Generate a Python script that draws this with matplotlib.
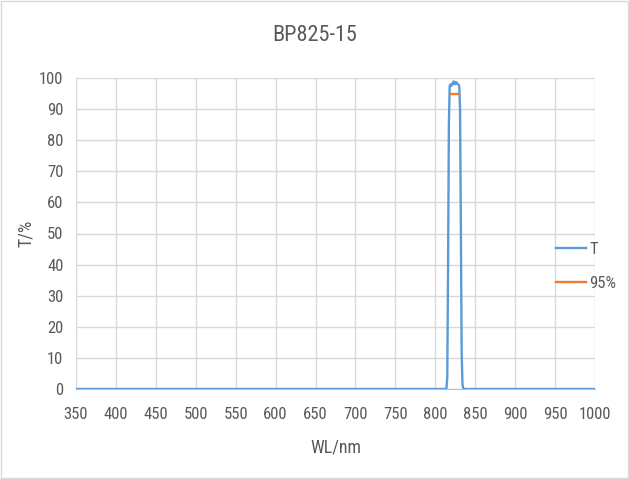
import matplotlib
matplotlib.use("Agg")
from matplotlib import pyplot as plt
from matplotlib.patches import Rectangle

plt.rcParams['font.family'] = ['Roboto Condensed', 'DejaVu Sans']

wl = [350, 812, 814, 815, 816, 817, 818, 819, 820, 821, 822, 823, 824, 825,
      826, 827, 828, 829, 830, 831, 832, 833, 834, 835, 837, 1000]
T = [0, 0, 0.3, 4, 40, 85, 97.4, 97.9, 97.5, 98.2, 98.0, 98.9, 98.5, 98.0,
     98.7, 98.3, 98.1, 97.8, 97.4, 90, 52, 12, 1.5, 0.2, 0, 0]

# linea del 95%
wl95 = [820, 830]
T95 = [95, 95]

xticks = list(range(350, 1001, 50))
yticks = list(range(0, 101, 10))

gris = '#595959'

fig = plt.figure(figsize=(6.29, 4.79), dpi=100)
ax = fig.add_axes([76/629, 1-389/479, (595-76)/629, (389-78)/479])

ax.plot(wl, T, color='#5b9bd5', linewidth=1.7, label='T', zorder=3)
ax.plot(wl95, T95, color='#ed7d31', linewidth=1.7, label='95%', zorder=4)

ax.set_xlim(350, 1000)
ax.set_ylim(0, 100)
ax.set_xticks(xticks)
ax.set_yticks(yticks)
ax.grid(True, color='#d9d9d9', linewidth=1.0)
ax.set_axisbelow(True)
for s in ['top', 'right', 'left']:
    ax.spines[s].set_visible(False)
ax.spines['bottom'].set_color('#bfbfbf')
ax.tick_params(length=0, labelsize=12, colors=gris)
ax.tick_params(axis='x', pad=13)
ax.tick_params(axis='y', pad=9)

fig.text(0.5, 1-35.5/479, 'BP825-15', fontsize=16, color=gris, ha='center', va='center')
ax.set_xlabel('WL/nm', fontsize=13, color=gris)
ax.xaxis.set_label_coords(0.5, (389-448)/311)
ax.xaxis.label.set_va('center')
ax.set_ylabel('T/%', fontsize=13, color=gris)
ax.yaxis.set_label_coords((26-76)/519, 0.5)
ax.yaxis.label.set_va('center')

fig.legend(loc='center left', bbox_to_anchor=(556/629, 1-266.5/479), frameon=False,
           fontsize=12, handlelength=1.8, handletextpad=0.2, labelspacing=1.1,
           borderpad=0, borderaxespad=0, labelcolor=gris)

fig.patches.append(Rectangle((0.002, 0.002), 0.996, 0.996, transform=fig.transFigure,
                             fill=False, edgecolor='#d9d9d9', linewidth=1))

fig.savefig('out.png', dpi=100)
